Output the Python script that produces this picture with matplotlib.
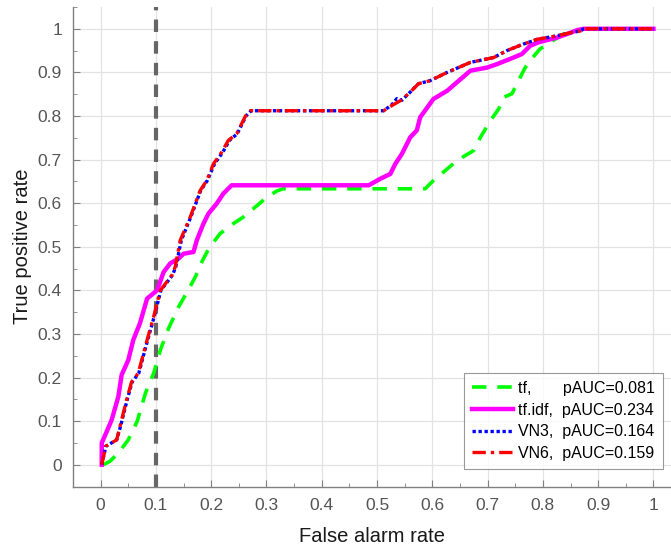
# ROC curves for tf / tf.idf / VN3 / VN6 with the 0.1 false-alarm cut-off

import numpy as np
import matplotlib.pyplot as plt
from matplotlib.ticker import MultipleLocator

plt.rcParams["font.family"] = ["Liberation Sans", "DejaVu Sans"]

# curve points (false alarm rate, true positive rate)
tf_x = [0.005, 0.017, 0.032, 0.05, 0.066, 0.081, 0.096, 0.108, 0.123, 0.141, 0.156, 0.171,
        0.183, 0.196, 0.216, 0.24, 0.258, 0.276, 0.301, 0.319, 0.33, 0.587, 0.602, 0.62,
        0.645, 0.675, 0.687, 0.705, 0.72, 0.729, 0.744, 0.756, 0.768, 0.777, 0.795, 0.837,
        0.874, 1.0]
tf_y = [0.0, 0.008, 0.027, 0.057, 0.099, 0.164, 0.21, 0.263, 0.313, 0.362, 0.395, 0.43,
        0.465, 0.497, 0.53, 0.553, 0.568, 0.587, 0.614, 0.628, 0.633, 0.633, 0.652, 0.671,
        0.698, 0.721, 0.751, 0.789, 0.816, 0.843, 0.851, 0.881, 0.911, 0.927, 0.954, 0.988,
        1.0, 1.0]

tfidf_x = [0.002, 0.002, 0.011, 0.02, 0.032, 0.038, 0.05, 0.059, 0.071, 0.084, 0.102, 0.114,
           0.126, 0.141, 0.15, 0.168, 0.174, 0.186, 0.195, 0.21, 0.222, 0.237, 0.485, 0.506,
           0.524, 0.533, 0.545, 0.56, 0.572, 0.578, 0.602, 0.627, 0.648, 0.669, 0.699, 0.717,
           0.741, 0.762, 0.777, 0.792, 0.826, 0.85, 0.862, 0.874, 1.0]
tfidf_y = [0.0, 0.05, 0.076, 0.103, 0.156, 0.206, 0.24, 0.286, 0.324, 0.381, 0.40, 0.442,
           0.462, 0.473, 0.484, 0.488, 0.515, 0.553, 0.576, 0.599, 0.622, 0.641, 0.641, 0.656,
           0.667, 0.69, 0.713, 0.751, 0.767, 0.797, 0.839, 0.858, 0.881, 0.904, 0.911, 0.919,
           0.931, 0.942, 0.961, 0.969, 0.98, 0.991, 0.997, 1.0, 1.0]

vn3_x = [0.002, 0.008, 0.009, 0.029, 0.036, 0.048, 0.057, 0.069, 0.085, 0.097, 0.109, 0.13,
         0.136, 0.146, 0.163, 0.181, 0.193, 0.206, 0.221, 0.233, 0.247, 0.263, 0.272, 0.512,
         0.527, 0.536, 0.545, 0.557, 0.575, 0.596, 0.627, 0.669, 0.711, 0.735, 0.765, 0.79,
         0.826, 0.85, 0.868, 0.874, 1.0]
vn3_y = [0.0, 0.034, 0.042, 0.057, 0.088, 0.149, 0.19, 0.21, 0.286, 0.34, 0.40, 0.435,
         0.454, 0.515, 0.568, 0.629, 0.652, 0.69, 0.717, 0.744, 0.759, 0.80, 0.812, 0.812,
         0.826, 0.84, 0.836, 0.851, 0.874, 0.881, 0.90, 0.923, 0.934, 0.95, 0.965, 0.976,
         0.984, 0.991, 0.995, 1.0, 1.0]

vn6_x = [0.002, 0.008, 0.009, 0.029, 0.035, 0.047, 0.056, 0.068, 0.084, 0.096, 0.108, 0.129,
         0.135, 0.144, 0.162, 0.18, 0.192, 0.204, 0.219, 0.231, 0.246, 0.262, 0.271, 0.512,
         0.527, 0.542, 0.557, 0.575, 0.596, 0.627, 0.669, 0.711, 0.735, 0.765, 0.79, 0.826,
         0.85, 0.868, 0.874, 1.0]
vn6_y = [0.0, 0.034, 0.042, 0.057, 0.088, 0.149, 0.19, 0.21, 0.286, 0.34, 0.40, 0.435,
         0.454, 0.515, 0.568, 0.629, 0.652, 0.69, 0.717, 0.744, 0.759, 0.80, 0.812, 0.812,
         0.824, 0.835, 0.851, 0.874, 0.881, 0.90, 0.923, 0.934, 0.95, 0.965, 0.976, 0.984,
         0.991, 0.995, 1.0, 1.0]

labels = ["tf,       pAUC=0.081", "tf.idf,  pAUC=0.234",
          "VN3,  pAUC=0.164", "VN6,  pAUC=0.159"]
tick_labels = ["0", "0.1", "0.2", "0.3", "0.4", "0.5", "0.6", "0.7", "0.8", "0.9", "1"]
cutoff = 0.1

fig = plt.figure(figsize=(6.71, 5.52), dpi=100)
ax = fig.add_axes([73 / 671, 1 - 486.5 / 552, 1 - 73 / 671 + 0.001, (486.5 - 7) / 552])

ax.axvline(cutoff, color="#666666", lw=3, ls=(0, (3, 2.2)), zorder=1)

ax.plot(tf_x, tf_y, color="#00ff00", lw=2.6, ls=(0, (4, 3)), label=labels[0], zorder=2)
ax.plot(tfidf_x, tfidf_y, color="#ff00ff", lw=3.2, ls="-", label=labels[1], zorder=3)
ax.plot(vn3_x, vn3_y, color="#0000ff", lw=2.4, ls=(0, (1, 0.8)), label=labels[2], zorder=4)
ax.plot(vn6_x, vn6_y, color="#ff0000", lw=2.4, ls=(0, (4, 1.5, 1, 1.5)), label=labels[3], zorder=5)

ax.set_xlim(-0.05, 1.033)
ax.set_ylim(-0.05, 1.05)
ax.set_xticks(np.arange(0, 1.01, 0.1))
ax.set_yticks(np.arange(0, 1.01, 0.1))
ax.set_xticklabels(tick_labels)
ax.set_yticklabels(tick_labels)
ax.xaxis.set_minor_locator(MultipleLocator(0.05))
ax.yaxis.set_minor_locator(MultipleLocator(0.05))

ax.grid(True, which="major", color="#e3e3e3", lw=0.9)
ax.set_axisbelow(True)
for s in ["top", "right"]:
    ax.spines[s].set_visible(False)
for s in ["left", "bottom"]:
    ax.spines[s].set_color("#808080")
    ax.spines[s].set_linewidth(1.0)
ax.tick_params(which="both", direction="in", colors="#808080", labelcolor="#555555",
               labelsize=12.5, top=False, right=False)
ax.tick_params(which="major", length=5, pad=8)
ax.tick_params(which="minor", length=3)

ax.set_xlabel("False alarm rate", fontsize=14.5, color="#1a1a1a", labelpad=10)
ax.set_ylabel("True positive rate", fontsize=14.5, color="#1a1a1a", labelpad=4)

leg = ax.legend(loc="lower right", fontsize=11.5, frameon=True, fancybox=False,
                handlelength=2.6, handletextpad=0.3, borderpad=0.5, labelspacing=0.42,
                borderaxespad=0)
leg.set_bbox_to_anchor((663 / 671, 1 - 469 / 552), transform=fig.transFigure)
leg.get_frame().set_edgecolor("#808080")
leg.get_frame().set_linewidth(0.8)

fig.savefig("out.png", dpi=100)
